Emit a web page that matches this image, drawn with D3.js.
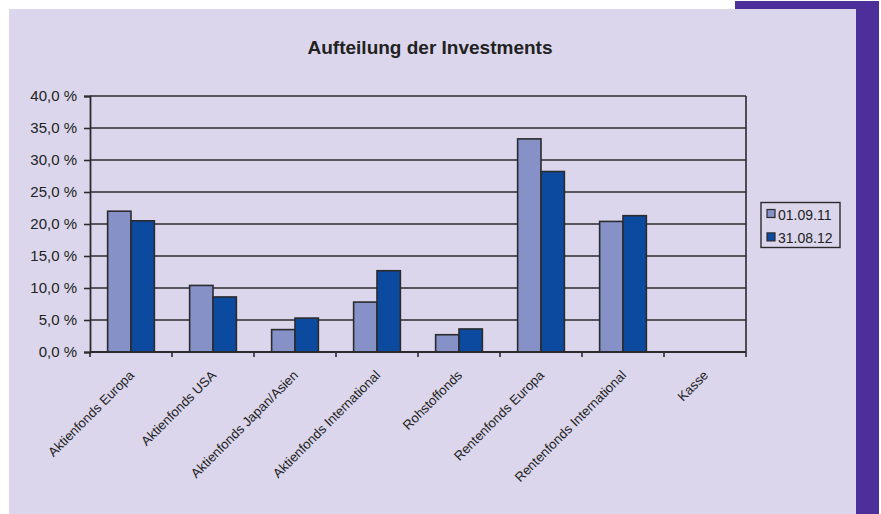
<!DOCTYPE html>
<html>
<head>
<meta charset="utf-8">
<script src="https://cdn.jsdelivr.net/npm/d3@7"></script>
<style>
  html, body { margin: 0; padding: 0; background: #ffffff; }
  svg { display: block; font-family: "Liberation Sans", Arial, sans-serif; }
</style>
</head>
<body>
<svg id="chart" width="881" height="514"></svg>
<script>
// Fund categories and portfolio shares (%) at the two reporting dates
const categories = [
  "Aktienfonds Europa",
  "Aktienfonds USA",
  "Aktienfonds Japan/Asien",
  "Aktienfonds International",
  "Rohstoffonds",
  "Rentenfonds Europa",
  "Rentenfonds International",
  "Kasse"
];
const seriesNames = ["01.09.11", "31.08.12"];
const values0109 = [22.0, 10.4, 3.5, 7.8, 2.7, 33.3, 20.4, 0.0];
const values3108 = [20.5, 8.6, 5.3, 12.7, 3.6, 28.2, 21.3, 0.0];
const yTicks = [0, 5, 10, 15, 20, 25, 30, 35, 40];
const titleText = "Aufteilung der Investments";

const colors = ["#8591c7", "#0c4a9f"];
const seriesValues = [values0109, values3108];

const svg = d3.select("#chart");

// Page frame: lavender panel with purple accent on the right and top
svg.append("rect").attr("x", 9).attr("y", 9).attr("width", 847).attr("height", 505).attr("fill", "#dbd6ec");
svg.append("rect").attr("x", 735).attr("y", 1).attr("width", 144).attr("height", 8).attr("fill", "#4d2f99");
svg.append("rect").attr("x", 856).attr("y", 9).attr("width", 23).attr("height", 505).attr("fill", "#4d2f99");

const plot = { left: 90, right: 746, top: 96, bottom: 352 };

const x = d3.scaleBand()
  .domain(categories)
  .range([plot.left, plot.right])
  .paddingInner(0)
  .paddingOuter(0);

const y = d3.scaleLinear()
  .domain([0, 40])
  .range([plot.bottom, plot.top]);

// Bar placement inside each category band
const groupPad = 0.215;
const xSeries = d3.scaleBand()
  .domain(seriesNames)
  .range([x.bandwidth() * groupPad, x.bandwidth() * (1 - groupPad)])
  .padding(0);

const lineColor = "#2b2b2e";

// Horizontal gridlines
svg.append("g")
  .selectAll("line")
  .data(yTicks.filter(d => d > 0))
  .join("line")
  .attr("x1", plot.left).attr("x2", plot.right)
  .attr("y1", d => y(d)).attr("y2", d => y(d))
  .attr("stroke", lineColor)
  .attr("stroke-width", 1.6);

// Right border of the plot area
svg.append("line")
  .attr("x1", plot.right).attr("x2", plot.right)
  .attr("y1", plot.top).attr("y2", plot.bottom)
  .attr("stroke", lineColor).attr("stroke-width", 1.6);

// Bars
const groups = svg.append("g")
  .selectAll("g")
  .data(categories)
  .join("g")
  .attr("transform", d => `translate(${x(d)},0)`);

groups.selectAll("rect")
  .data((d, i) => seriesNames.map((s, j) => ({ s, j, v: seriesValues[j][i] })))
  .join("rect")
  .filter(d => d.v > 0)
  .attr("x", d => xSeries(d.s))
  .attr("y", d => y(d.v))
  .attr("width", xSeries.bandwidth())
  .attr("height", d => y(0) - y(d.v))
  .attr("fill", d => colors[d.j])
  .attr("stroke", lineColor)
  .attr("stroke-width", 1.6);

// Y axis
const yAxis = d3.axisLeft(y)
  .tickValues(yTicks)
  .tickSize(6)
  .tickPadding(7)
  .tickFormat(d => d3.format(".1f")(d).replace(".", ",") + "\u00a0%");

const yg = svg.append("g")
  .attr("transform", `translate(${plot.left},0)`)
  .call(yAxis);
yg.select(".domain").attr("stroke", lineColor).attr("stroke-width", 1.8);
yg.selectAll(".tick line").attr("stroke", lineColor).attr("stroke-width", 1.6);
yg.selectAll(".tick text")
  .attr("fill", "#222")
  .style("font-size", "15px")
  .style("font-family", "'Liberation Sans', Arial, sans-serif");

// X axis with ticks at category boundaries
const xg = svg.append("g")
  .attr("transform", `translate(0,${plot.bottom})`);
xg.append("line")
  .attr("x1", plot.left).attr("x2", plot.right)
  .attr("y1", 0).attr("y2", 0)
  .attr("stroke", lineColor).attr("stroke-width", 1.8);
xg.selectAll("line.tick")
  .data(d3.range(categories.length + 1))
  .join("line")
  .attr("class", "tick")
  .attr("x1", i => plot.left + i * x.step())
  .attr("x2", i => plot.left + i * x.step())
  .attr("y1", 0).attr("y2", 5)
  .attr("stroke", lineColor).attr("stroke-width", 1.6);

xg.selectAll("text")
  .data(categories)
  .join("text")
  .attr("transform", d => `translate(${x(d) + x.bandwidth() / 2 + 4},${24}) rotate(-45)`)
  .attr("text-anchor", "end")
  .attr("fill", "#222")
  .style("font-size", "13.2px")
  .text(d => d);

// Title
svg.append("text")
  .attr("x", 430)
  .attr("y", 54)
  .attr("text-anchor", "middle")
  .attr("fill", "#222")
  .style("font-size", "19px")
  .style("font-weight", "bold")
  .text(titleText);

// Legend
const legend = svg.append("g").attr("transform", "translate(761,202.5)");
legend.append("rect")
  .attr("width", 79).attr("height", 45)
  .attr("fill", "none")
  .attr("stroke", lineColor).attr("stroke-width", 1.4);
const items = legend.selectAll("g.item")
  .data(seriesNames)
  .join("g")
  .attr("class", "item")
  .attr("transform", (d, i) => `translate(6,${7 + i * 23.4})`);
items.append("rect")
  .attr("width", 8).attr("height", 8)
  .attr("fill", (d, i) => colors[i])
  .attr("stroke", lineColor).attr("stroke-width", 1.2);
items.append("text")
  .attr("x", 11).attr("y", 10.5)
  .attr("fill", "#222")
  .style("font-size", "14px")
  .text(d => d);
</script>
</body>
</html>
